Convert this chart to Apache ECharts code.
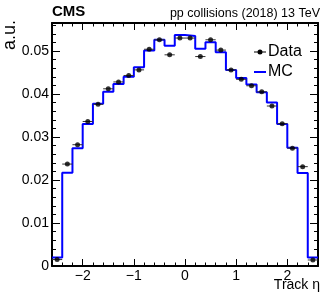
<!DOCTYPE html>
<html><head><meta charset="utf-8">
<script src="https://cdn.jsdelivr.net/npm/echarts@6/dist/echarts.min.js"></script>
<style>html,body{margin:0;padding:0;background:#fff}#c{width:332px;height:302px}</style>
</head><body><div id="c"></div>
<script>
// ---- data ----
const binEdges = [-2.6,-2.4,-2.2,-2.0,-1.8,-1.6,-1.4,-1.2,-1.0,-0.8,-0.6,-0.4,-0.2,0.0,0.2,0.4,0.6,0.8,1.0,1.2,1.4,1.6,1.8,2.0,2.2,2.4,2.6];
const mcValues = [0.0020,0.0217,0.0274,0.0330,0.0377,0.0405,0.0423,0.0440,0.0462,0.0501,0.0526,0.0512,0.0537,0.0535,0.0505,0.0520,0.0497,0.0456,0.0437,0.0422,0.0404,0.0380,0.0330,0.0275,0.0216,0.0020];
const dataValues = [0.0015,0.0237,0.0282,0.0336,0.0376,0.0412,0.0428,0.0443,0.0456,0.0504,0.0526,0.0491,0.0530,0.0530,0.0487,0.0526,0.0502,0.0456,0.0434,0.0419,0.0405,0.0372,0.0331,0.0274,0.0231,0.0014];
const xMajorTicks = [-2,-1,0,1,2];
const xMinorTicks = [-2.4,-2.2,-1.8,-1.6,-1.4,-1.2,-0.8,-0.6,-0.4,-0.2,0.2,0.4,0.6,0.8,1.2,1.4,1.6,1.8,2.2,2.4];
const yMajorTicks = [0,0.01,0.02,0.03,0.04,0.05];
const yMinorTicks = [0.002,0.004,0.006,0.008,0.012,0.014,0.016,0.018,0.022,0.024,0.026,0.028,0.032,0.034,0.036,0.038,0.042,0.044,0.046,0.048,0.052,0.054,0.056];
const seriesNames = ['Data','MC'];

// ---- chart ----
const FONT = 'Liberation Sans, Arial, Helvetica, sans-serif';
const centers = [], halfW = [];
for (let i = 0; i < binEdges.length - 1; i++) {
  centers.push((binEdges[i] + binEdges[i+1]) / 2);
  halfW.push((binEdges[i+1] - binEdges[i]) / 2);
}
const mcStep = binEdges.map((e, i) => [e, mcValues[Math.min(i, mcValues.length - 1)]]);
const dataPts = centers.map((c, i) => [c, dataValues[i], halfW[i]]);

function mkAxis(pos, ticks, len, line, labels, extra) {
  return Object.assign({
    type: 'value', position: pos,
    axisLine: {show: line, onZero: false, lineStyle: {color: '#000', width: 2}},
    axisTick: {show: true, inside: true, length: len, customValues: ticks, lineStyle: {color: '#000', width: 1}},
    axisLabel: labels ? Object.assign({customValues: ticks, color: '#000', fontSize: 14, fontFamily: FONT}, labels) : {show: false},
    splitLine: {show: false}, minorTick: {show: false}
  }, extra);
}
const xr = {min: binEdges[0], max: binEdges[binEdges.length - 1]};
const yr = {min: 0, max: 0.0565};
const minus = v => String(v).replace('-', '\u2212');

const chart = echarts.init(document.getElementById('c'), null, {renderer: 'canvas'});
chart.setOption({
  animation: false,
  textStyle: {fontFamily: FONT},
  grid: {left: 52, right: 14, top: 23, bottom: 36, containLabel: false},
  title: [
    {text: 'CMS', left: 52, top: 4, padding: 0, textStyle: {fontSize: 15, fontWeight: 'bold', color: '#000', fontFamily: FONT}},
    {text: 'pp collisions (2018) 13 TeV', right: 12, top: 7, padding: 0, textStyle: {fontSize: 12.5, fontWeight: 'normal', color: '#000', fontFamily: FONT}}
  ],
  legend: {
    orient: 'vertical', left: 254, top: 44, padding: 0, itemGap: 4, itemWidth: 12, itemHeight: 10,
    symbolKeepAspect: true,
    textStyle: {fontSize: 16, color: '#000', fontFamily: FONT, lineHeight: 16, padding: [0, 0, 0, -3]},
    data: [
      {name: seriesNames[0], icon: 'path://M0,4.5H12V5.5H0Z M3.5,5a2.5,2.5 0 1,1 5,0a2.5,2.5 0 1,1 -5,0Z', itemStyle: {color: '#000', borderWidth: 0, opacity: 1}},
      {name: seriesNames[1], icon: 'path://M0,0H12V2H0Z', itemStyle: {color: '#0000ff', borderWidth: 0}}
    ]
  },
  xAxis: [
    mkAxis('bottom', xMajorTicks, 7, true, {margin: 3, formatter: minus}, xr),
    mkAxis('bottom', xMinorTicks, 3.5, false, null, xr),
    mkAxis('top', xMajorTicks, 7, true, null, xr),
    mkAxis('top', xMinorTicks, 3.5, false, null, xr)
  ],
  yAxis: [
    mkAxis('left', yMajorTicks, 8, true, {margin: 3}, yr),
    mkAxis('left', yMinorTicks, 4, false, null, yr),
    mkAxis('right', yMajorTicks, 8, true, null, yr),
    mkAxis('right', yMinorTicks, 4, false, null, yr)
  ],
  graphic: [
    {type: 'text', x: 10, y: 50, rotation: Math.PI / 2, style: {text: 'a.u.', font: '18px ' + FONT, fill: '#000', textAlign: 'left', textVerticalAlign: 'middle'}},
    {type: 'text', x: 320, y: 285, style: {text: 'Track \u03b7', font: '14px ' + FONT, fill: '#000', textAlign: 'right', textVerticalAlign: 'middle'}}
  ],
  series: [
    {name: seriesNames[1], type: 'line', step: 'end', data: mcStep, showSymbol: false, symbol: 'none',
     lineStyle: {color: '#0000ff', width: 2}, itemStyle: {color: '#0000ff'}, z: 2},
    {name: seriesNames[0] + ' err', type: 'custom', z: 3,
     renderItem: (params, api) => {
       const c = api.value(0), v = api.value(1), h = api.value(2);
       const p1 = api.coord([c - h, v]), p2 = api.coord([c + h, v]);
       return {type: 'line', shape: {x1: p1[0], y1: p1[1], x2: p2[0], y2: p2[1]}, style: {stroke: '#333', lineWidth: 1}};
     },
     encode: {x: 0, y: 1}, data: dataPts},
    {name: seriesNames[0], type: 'scatter', data: dataPts.map(d => [d[0], d[1]]), symbol: 'circle', symbolSize: 5,
     itemStyle: {color: '#000'}, z: 4}
  ]
});
</script></body></html>
